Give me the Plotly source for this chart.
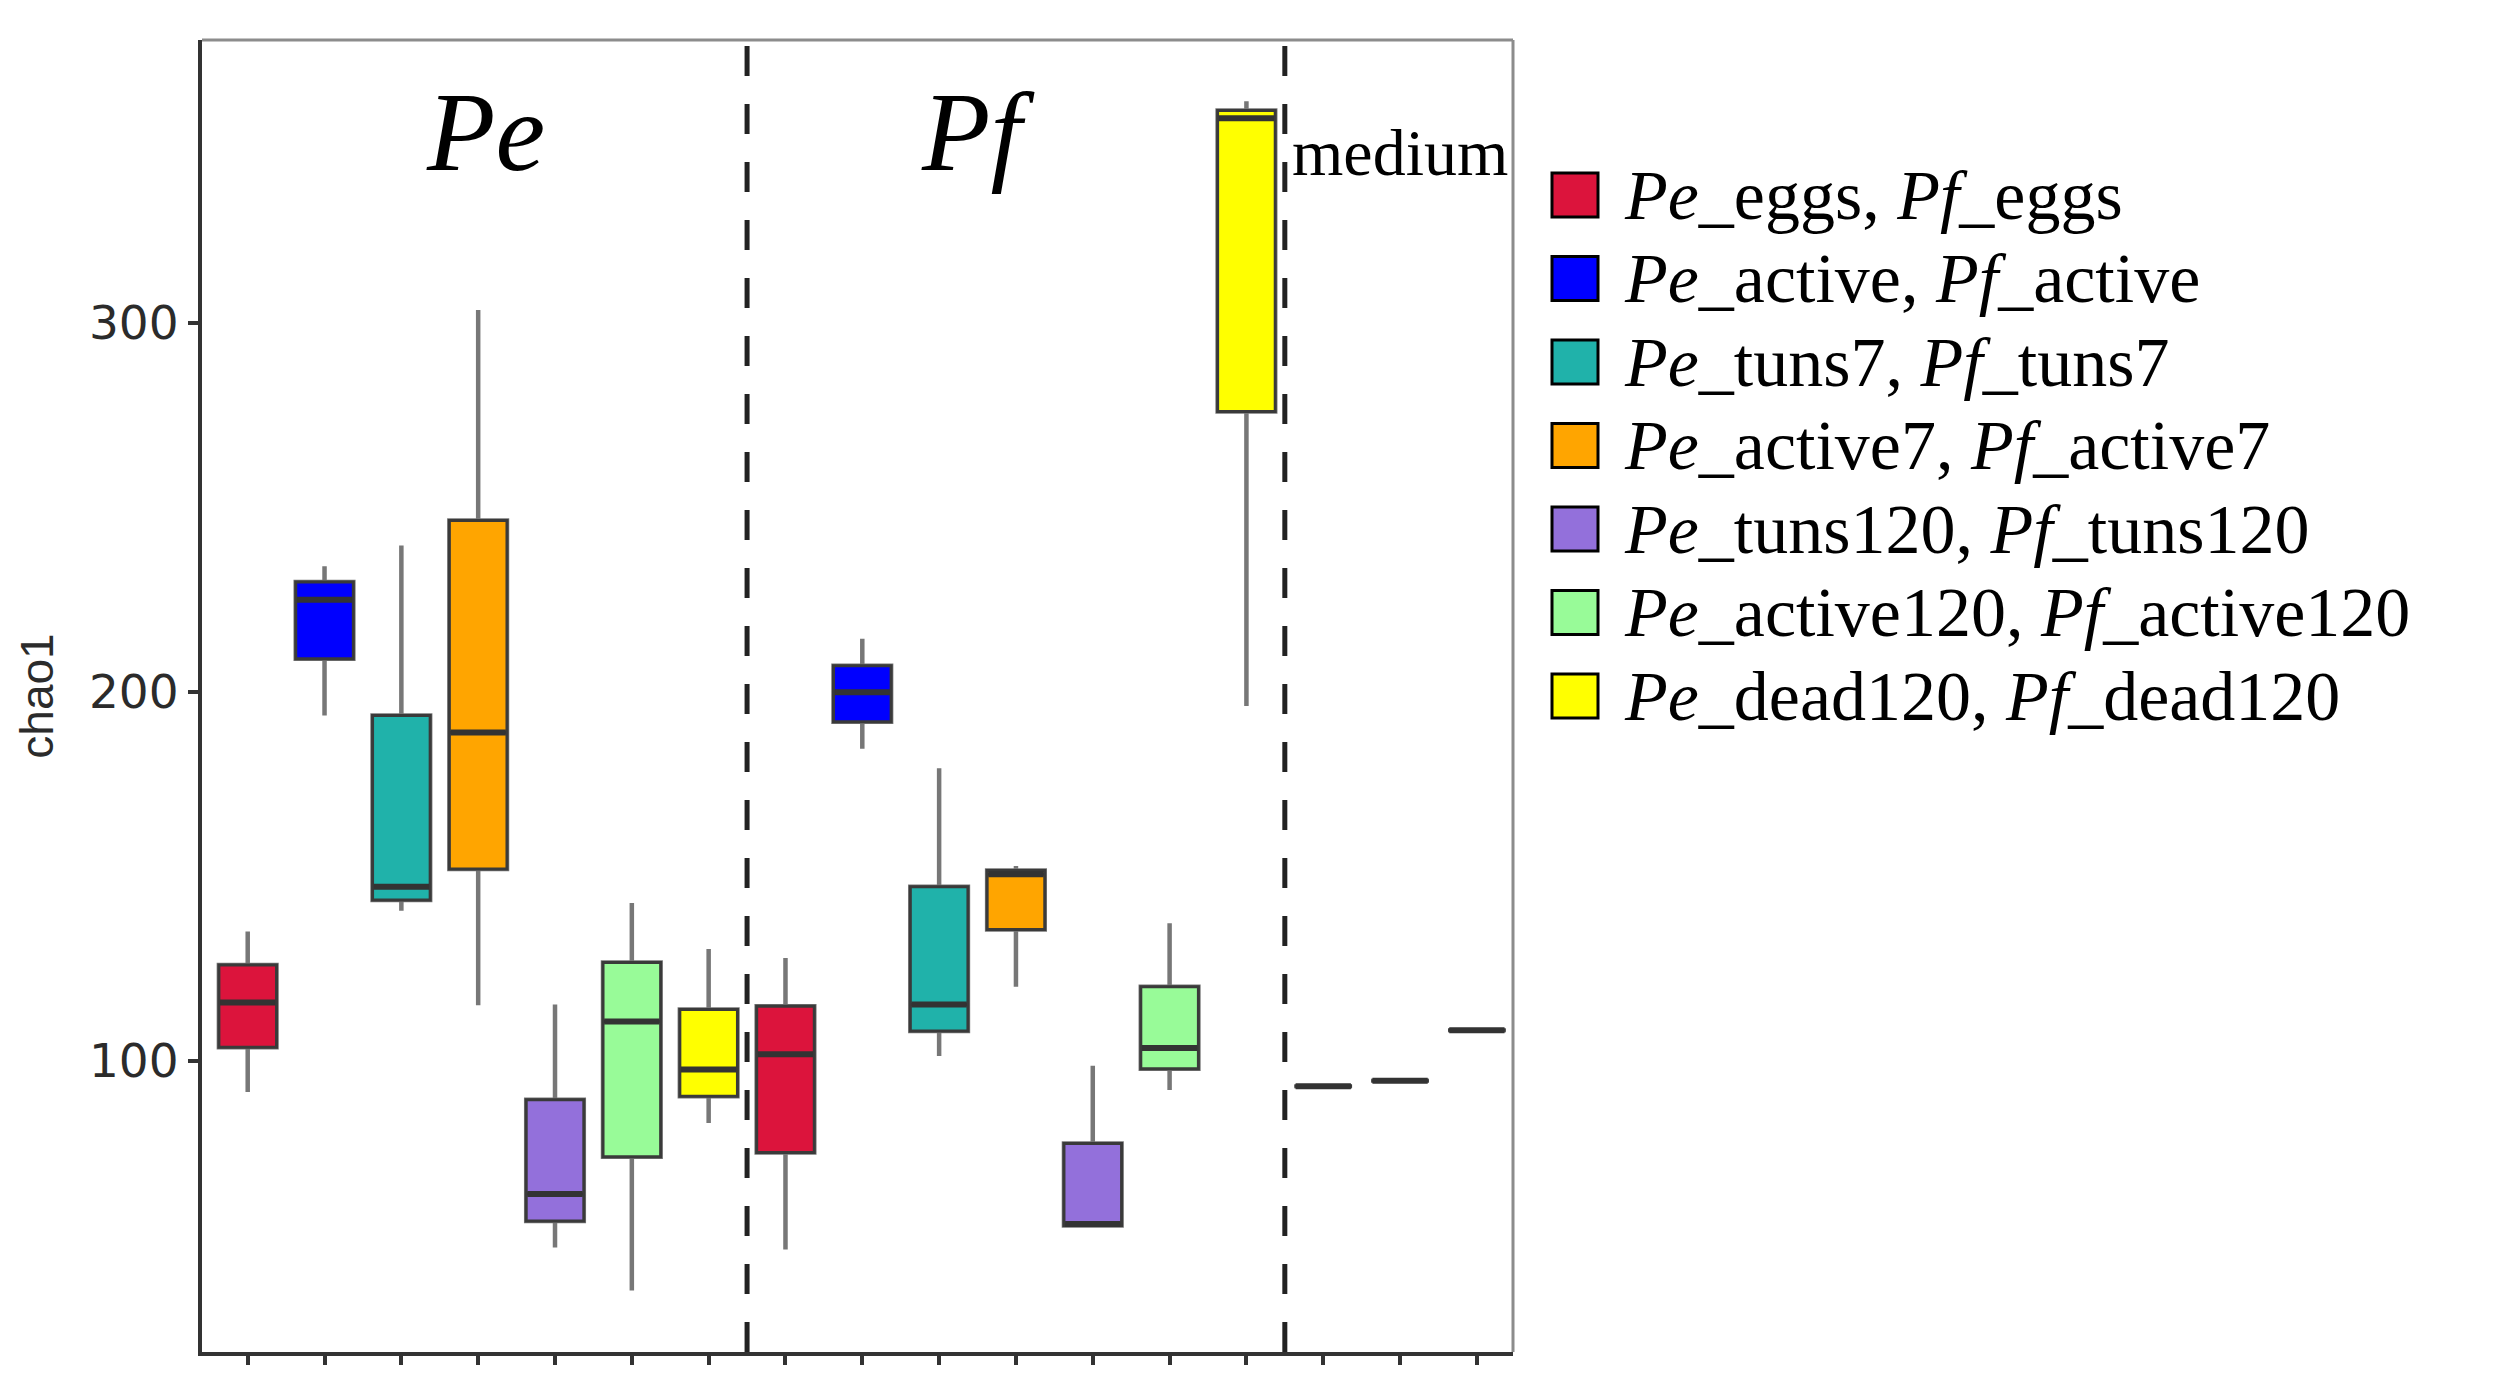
import plotly.graph_objects as go

# chao1 box plot, Pe / Pf / medium groups

W, H = 2495, 1397
PAGE = 8  # default body margin of the html page
L, R, T, B = 202, 1513, 40, 1352  # plot area in page px

positions = list(range(1, 18))
groups = ["eggs", "active", "tuns7", "active7", "tuns120", "active120", "dead120"]
group_colors = ["#DC143C", "#0000FF", "#20B2AA", "#FFA500", "#9370DB", "#98FB98", "#FFFF00"]
medium_color = "#BDBDBD"

upper = [135.0, 234.0, 239.6, 303.4, 115.2, 142.7, 130.2,
         127.8, 214.3, 179.2, 152.7, 98.6, 137.2, 360.0,
         93.0, 94.5, 108.2]
q3 = [125.9, 229.7, 193.5, 246.4, 89.4, 126.6, 113.8,
      114.7, 207.0, 147.1, 151.5, 77.5, 120.0, 357.5,
      93.0, 94.5, 108.2]
median = [115.7, 224.9, 147.1, 188.9, 63.8, 110.6, 97.6,
          101.7, 199.8, 115.2, 150.5, 55.7, 103.4, 355.4,
          93.0, 94.5, 108.2]
q1 = [103.6, 208.9, 143.5, 151.9, 56.5, 73.9, 90.3,
      75.1, 191.8, 108.0, 135.5, 55.3, 97.8, 275.9,
      93.0, 94.5, 108.2]
lower = [91.5, 193.5, 140.6, 115.0, 49.3, 37.7, 83.1,
         48.8, 184.5, 101.2, 120.0, 55.0, 92.0, 196.1,
         93.0, 94.5, 108.2]

section_labels = ["<i>Pe</i>", "<i>Pf</i>"]
section_x = [4.1, 10.5]
legend_labels = ["<i>Pe</i>_%s, <i>Pf</i>_%s" % (g, g) for g in groups]

box_colors = group_colors + group_colors + [medium_color] * 3

fig = go.Figure()
for i, pos in enumerate(positions):
    # whiskers (lighter grey)
    fig.add_trace(go.Box(
        x=[pos], q1=[q1[i]], median=[median[i]], q3=[q3[i]],
        lowerfence=[lower[i]], upperfence=[upper[i]],
        width=0.75, whiskerwidth=0, fillcolor=box_colors[i],
        line=dict(color="#777777", width=4.5), showlegend=False, hoverinfo="skip"))
    # box body on top (darker outline)
    fig.add_trace(go.Box(
        x=[pos], q1=[q1[i]], median=[median[i]], q3=[q3[i]],
        lowerfence=[q1[i]], upperfence=[q3[i]],
        width=0.75, whiskerwidth=0, fillcolor=box_colors[i],
        line=dict(color="#3a3a3a", width=3), showlegend=False, hoverinfo="skip"))
    # thick median bar
    fig.add_trace(go.Box(
        x=[pos], q1=[median[i]], median=[median[i]], q3=[median[i]],
        lowerfence=[median[i]], upperfence=[median[i]],
        width=0.72, whiskerwidth=0, fillcolor=box_colors[i],
        line=dict(color="#333333", width=6), showlegend=False))


def px_x(p):
    return (p - L) / (R - L)


def px_y(p):
    return (B - p) / (B - T)


shapes = []
for xv in [7.5, 14.5]:
    shapes.append(dict(type="line", xref="x", yref="paper", x0=xv, x1=xv, y0=0, y1=1,
                       line=dict(color="#222222", width=5, dash="30px,28px")))
shapes.append(dict(type="line", xref="paper", yref="paper", x0=0, x1=1, y0=1, y1=1,
                   line=dict(color="#8c8c8c", width=3)))
shapes.append(dict(type="line", xref="paper", yref="paper", x0=1, x1=1, y0=0, y1=1,
                   line=dict(color="#8c8c8c", width=3)))

annotations = []
for txt, xv in zip(section_labels, section_x):
    annotations.append(dict(x=xv, y=351.6, xref="x", yref="y", text=txt, showarrow=False,
                            xanchor="center", yanchor="middle",
                            font=dict(family="Liberation Serif, Times New Roman, serif",
                                      size=112, color="black")))
annotations.append(dict(x=16.0, y=346.0, xref="x", yref="y", text="medium", showarrow=False,
                        xanchor="center", yanchor="middle",
                        font=dict(family="Liberation Serif, Times New Roman, serif",
                                  size=66, color="black")))

# hand-drawn legend with large keys
for k, (lab, col) in enumerate(zip(legend_labels, group_colors)):
    cy = 195 + k * 83.5
    shapes.append(dict(type="rect", xref="paper", yref="paper",
                       x0=px_x(1552), x1=px_x(1598), y0=px_y(cy + 22), y1=px_y(cy - 22),
                       fillcolor=col, line=dict(color="black", width=3)))
    annotations.append(dict(x=px_x(1622), y=px_y(cy), xref="paper", yref="paper",
                            text=lab, showarrow=False, xanchor="left", yanchor="middle",
                            font=dict(family="Liberation Serif, Times New Roman, serif",
                                      size=70, color="black")))

fig_w, fig_h = W - 2 * PAGE, H - 2 * PAGE
fig.update_layout(
    width=fig_w, height=fig_h,
    margin=dict(l=L - PAGE, r=fig_w - (R - PAGE), t=T - PAGE, b=fig_h - (B - PAGE), pad=0),
    paper_bgcolor="white", plot_bgcolor="white",
    boxmode="overlay",
    shapes=shapes, annotations=annotations,
    showlegend=False,
)
fig.update_xaxes(range=[0.405, 17.47], tickvals=positions, showticklabels=False,
                 ticks="outside", ticklen=9, tickwidth=4, tickcolor="#333333",
                 showline=True, linewidth=4, linecolor="#333333",
                 showgrid=False, zeroline=False)
fig.update_yaxes(range=[21, 376.6], tickvals=[100, 200, 300],
                 ticks="outside", ticklen=10, tickwidth=4, tickcolor="#333333",
                 tickfont=dict(family="DejaVu Sans, Verdana, sans-serif", size=47, color="#2b2b2b"),
                 title=dict(text="chao1", standoff=22,
                            font=dict(family="Liberation Sans, Arial, sans-serif", size=46, color="#2b2b2b")),
                 showline=True, linewidth=4, linecolor="#333333",
                 showgrid=False, zeroline=False)

fig.write_html("out.html")
